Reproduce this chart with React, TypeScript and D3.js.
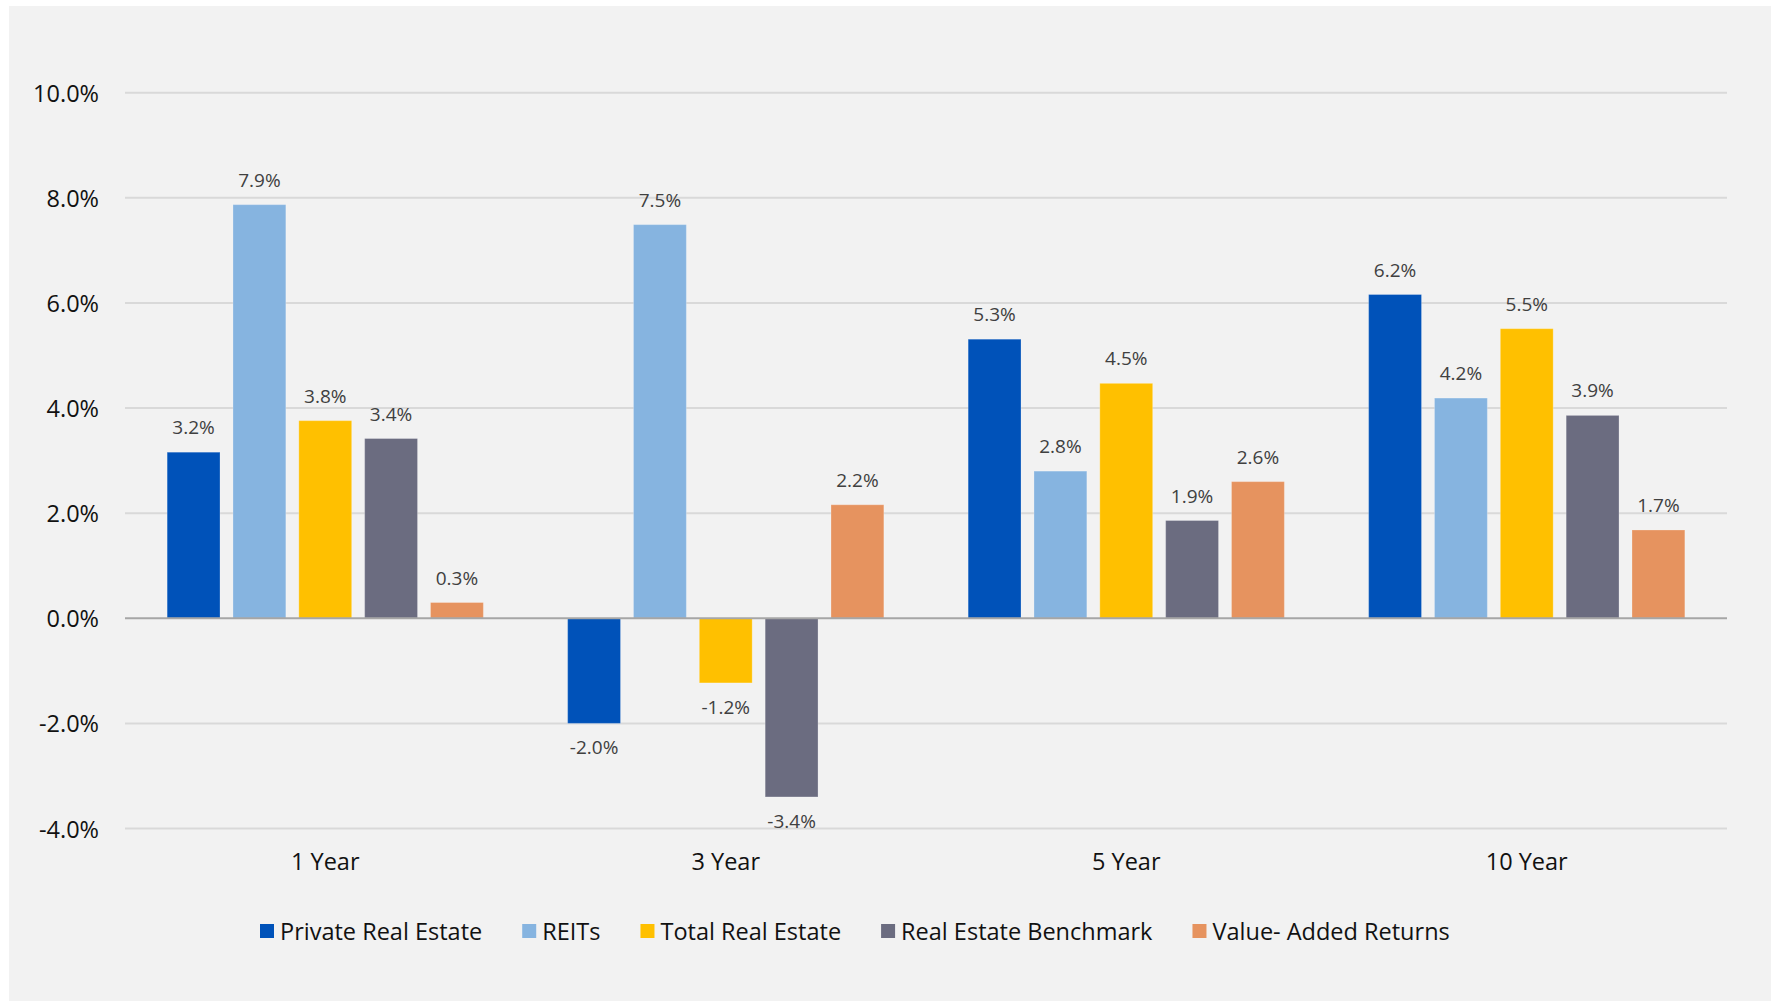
import React, { useMemo } from "react";
import * as d3 from "d3";

const categories = ["1 Year", "3 Year", "5 Year", "10 Year"];
const seriesNames = [
  "Private Real Estate",
  "REITs",
  "Total Real Estate",
  "Real Estate Benchmark",
  "Value- Added Returns",
];
const seriesColors = ["#0052B9", "#86B4E0", "#FFC000", "#6B6C80", "#E6935F"];
const privateRealEstate = [3.16, -2.0, 5.31, 6.16];
const reits = [7.87, 7.49, 2.8, 4.19];
const totalRealEstate = [3.76, -1.23, 4.47, 5.51];
const benchmark = [3.42, -3.4, 1.86, 3.86];
const valueAdded = [0.3, 2.16, 2.6, 1.68];
const yTicks = [-4, -2, 0, 2, 4, 6, 8, 10];

const seriesValues = [privateRealEstate, reits, totalRealEstate, benchmark, valueAdded];

const W = 1771;
const H = 1001;
const FONT = "'Open Sans', 'Noto Sans', sans-serif";
const AXIS_SIZE = 23.5;
const LABEL_SIZE = 19;

export default function App() {
  const y = d3.scaleLinear().domain([-4, 10]).range([828.5, 92.7]);
  const x0 = d3.scaleBand<string>().domain(categories).range([125, 1727]).paddingInner(0).paddingOuter(0);
  const x1 = d3
    .scaleBand<string>()
    .domain(seriesNames)
    .range([0, x0.bandwidth()])
    .paddingInner(0.197)
    .paddingOuter(0.64);

  const legendLayout = useMemo(() => {
    const canvas = document.createElement("canvas");
    const ctx = canvas.getContext("2d")!;
    ctx.font = `${AXIS_SIZE}px ${FONT}`;
    let x = 260;
    return seriesNames.map((name) => {
      const w = ctx.measureText(name).width;
      const item = { x, w };
      x += 20 + w + 40;
      return item;
    });
  }, []);

  const fmt = (v: number) => `${v.toFixed(1)}%`;

  return (
    <svg
      width={W}
      height={H}
      style={{ position: "absolute", left: 0, top: 0, display: "block" }}
      fontFamily={FONT}
    >
      <rect x={0} y={0} width={W} height={H} fill="#ffffff" />
      <rect x={9} y={6} width={W - 9} height={H - 6} fill="#F2F2F2" />

      {yTicks.map((t) => (
        <g key={t}>
          {t !== 0 && (
            <line x1={125} x2={1727} y1={y(t)} y2={y(t)} stroke="#D9D9D9" strokeWidth={2} />
          )}
          <text
            x={99}
            y={y(t)}
            textAnchor="end"
            dominantBaseline="central"
            fontSize={AXIS_SIZE}
            fill="#111111"
          >
            {`${t.toFixed(1)}%`}
          </text>
        </g>
      ))}

      {categories.map((c, ci) => (
        <g key={c} transform={`translate(${x0(c)},0)`}>
          {seriesNames.map((s, si) => {
            const v = seriesValues[si][ci];
            const top = y(Math.max(0, v));
            const bottom = y(Math.min(0, v));
            const bx = x1(s)!;
            return (
              <g key={s}>
                <rect
                  x={bx}
                  y={top}
                  width={x1.bandwidth()}
                  height={bottom - top}
                  fill={seriesColors[si]}
                  stroke="#ffffff"
                  strokeOpacity={0.25}
                  strokeWidth={1}
                />
                <text
                  x={bx + x1.bandwidth() / 2}
                  y={v >= 0 ? top - 18 : bottom + 31}
                  textAnchor="middle"
                  fontSize={LABEL_SIZE}
                  fill="#404040"
                >
                  {fmt(v)}
                </text>
              </g>
            );
          })}
          <text
            x={x0.bandwidth() / 2}
            y={870}
            textAnchor="middle"
            fontSize={AXIS_SIZE}
            fill="#111111"
          >
            {c}
          </text>
        </g>
      ))}

      <line x1={125} x2={1727} y1={y(0)} y2={y(0)} stroke="#A6A6A6" strokeWidth={2} />

      {seriesNames.map((s, si) => (
        <g key={s}>
          <rect x={legendLayout[si].x} y={924} width={14} height={14} fill={seriesColors[si]} />
          <text
            x={legendLayout[si].x + 20}
            y={931}
            dominantBaseline="central"
            fontSize={AXIS_SIZE}
            fill="#111111"
          >
            {s}
          </text>
        </g>
      ))}
    </svg>
  );
}
